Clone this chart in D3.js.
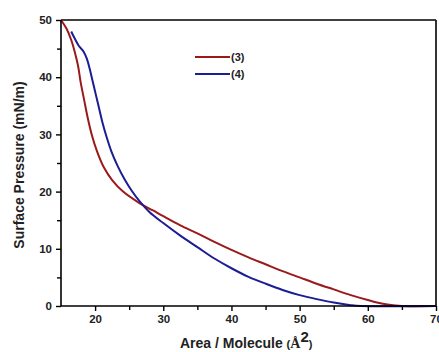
<!DOCTYPE html>
<html><head><meta charset="utf-8">
<script src="https://cdn.jsdelivr.net/npm/d3@7"></script>
<style>body{margin:0;background:#fff;}svg{display:block;font-family:Arial,"Liberation Sans",sans-serif;}</style>
</head><body>
<svg id="c" width="439" height="352"></svg>
<script>
const series3Area = [15,15.8,16.5,17,17.5,17.9,18.4,18.9,19.5,20.3,21.3,22.5,24.1,26.5,28.5,30,32.5,35,37.5,40,42.5,45,47.5,50,52.5,55,57.5,60,62,64,65,70];
const series3Pressure = [50,48.5,46.5,44.5,42,39,36,33,30,27,24.2,22.0,20,18,16.7,15.7,14.1,12.7,11.2,9.8,8.5,7.3,6.1,5.0,3.9,2.9,1.9,1.05,0.45,0.1,0,0];
const series4Area = [16.5,17,17.6,18.3,18.8,19.2,19.6,20.1,20.6,21.1,21.7,22.4,23.3,24.3,25.4,26.6,28,30,32.5,35,37.5,40,42.5,45,47.5,50,52.5,55,57.5,59,70];
const series4Pressure = [48,46.8,45.5,44.5,43.2,41.5,39.5,37,34.5,32,29.5,27,24.5,22.2,20.1,18.2,16.4,14.5,12.3,10.3,8.3,6.6,5.1,3.9,2.8,1.9,1.2,0.6,0.15,0,0];
const seriesNames = ["(3)","(4)"];
const xTicks = [20,30,40,50,60,70];
const yTicks = [0,10,20,30,40,50];

const svg = d3.select("#c");
const x = d3.scaleLinear().domain([15,70]).range([61,436]);
const y = d3.scaleLinear().domain([0,50]).range([306,20]);
const colors = ["#9a1a1c","#1c1c96"];

// frame
svg.append("line").attr("x1",61).attr("x2",436).attr("y1",y(50)).attr("y2",y(50)).attr("stroke","#000").attr("stroke-width",1.6);
svg.append("line").attr("x1",436).attr("x2",436).attr("y1",y(50)).attr("y2",y(0)).attr("stroke","#000").attr("stroke-width",1.6);

// lines
const d3data = series3Area.map((a,i)=>[a,series3Pressure[i]]);
const d4data = series4Area.map((a,i)=>[a,series4Pressure[i]]);
const lineY = d3.line().x(d=>x(d[0])).y(d=>y(d[1])).curve(d3.curveCatmullRom.alpha(0.5));
svg.append("path").attr("d",lineY(d3data)).attr("fill","none").attr("stroke",colors[0]).attr("stroke-width",2);
svg.append("path").attr("d",lineY(d4data)).attr("fill","none").attr("stroke",colors[1]).attr("stroke-width",2);

// axes
const xAxis = d3.axisBottom(x).tickValues(xTicks).tickSize(5).tickPadding(4).tickFormat(d3.format("d"));
const gx = svg.append("g").attr("transform","translate(0,306)").call(xAxis);
const xMinor = d3.axisBottom(x).tickValues([25,35,45,55,65]).tickSize(4).tickFormat("");
svg.append("g").attr("transform","translate(0,306)").call(xMinor).select(".domain").remove();
const yAxis = d3.axisLeft(y).tickValues(yTicks).tickSize(5).tickPadding(4).tickFormat(d3.format("d"));
const gy = svg.append("g").attr("transform","translate(61,0)").call(yAxis);
const yMinor = d3.axisLeft(y).tickValues([5,15,25,35,45]).tickSize(4).tickFormat("");
svg.append("g").attr("transform","translate(61,0)").call(yMinor).select(".domain").remove();
svg.selectAll(".domain").attr("stroke-width",1.6);
gx.select(".domain").attr("d","M61,0H436");
gy.select(".domain").attr("d","M0,306V20");
svg.selectAll(".tick line").attr("stroke-width",1.4);
svg.selectAll(".tick text").attr("font-size",11.5).attr("font-weight","bold").attr("fill","#222").attr("font-family","Arial,'Liberation Sans',sans-serif");

// legend
seriesNames.forEach((n,i)=>{
  const ly = 57 + i*17;
  svg.append("line").attr("x1",195).attr("x2",230).attr("y1",ly).attr("y2",ly).attr("stroke",colors[i]).attr("stroke-width",2.2);
  svg.append("text").attr("x",231).attr("y",ly+4).attr("font-size",11).attr("font-weight","bold").attr("fill","#222").text(n);
});

// axis titles
svg.append("text").attr("transform","translate(24,165) rotate(-90)").attr("text-anchor","middle")
  .attr("font-size",14).attr("font-weight","bold").attr("fill","#222").text("Surface Pressure (mN/m)");
const xt = svg.append("text").attr("x",180).attr("y",348).attr("font-size",14).attr("font-weight","bold").attr("fill","#222");
xt.append("tspan").text("Area / Molecule ");
xt.append("tspan").attr("font-size",11).text("(");
xt.append("tspan").attr("font-family","'Liberation Serif',serif").attr("font-size",14).text("Å");
xt.append("tspan").attr("dy",-6).attr("font-size",15).text("2");
xt.append("tspan").attr("dy",6).attr("font-size",11).text(")");
</script>
</body></html>
